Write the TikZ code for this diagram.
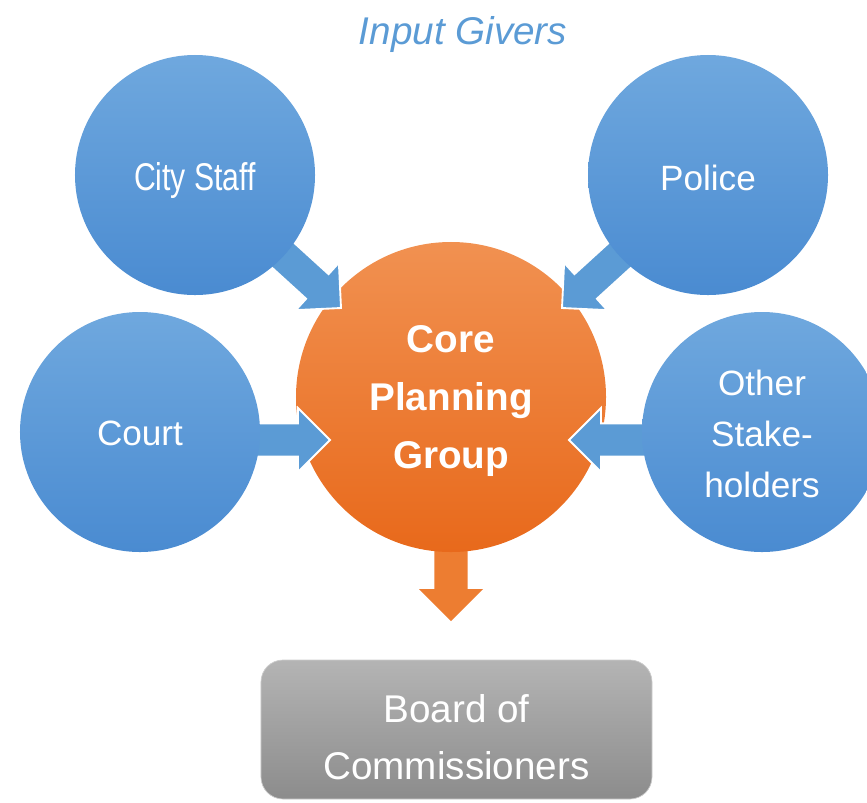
\documentclass[tikz,border=0pt]{standalone}
\usepackage{fontspec}
\setmainfont{Liberation Sans}
\usetikzlibrary{calc}

\definecolor{bubbletop}{HTML}{6FA8DE}
\definecolor{bubblebot}{HTML}{4A8BD1}
\definecolor{arrowblue}{HTML}{5B9BD5}
\definecolor{coretop}{HTML}{F19151}
\definecolor{corebot}{HTML}{E8691B}
\definecolor{arroworange}{HTML}{ED7D31}
\definecolor{boardtop}{HTML}{B4B4B4}
\definecolor{boardbot}{HTML}{8C8C8C}

\pgfdeclarelayer{below}
\pgfdeclarelayer{mid}
\pgfsetlayers{below,mid,main}

% block arrow from #2 to the tip #3
\newcommand{\blockarrow}[3][]{%
  \coordinate (ba-neck) at ($(#3)!0.96cm!(#2)$);
  \filldraw[#1] ($(#2)!0.5cm!90:(#3)$) -- ($(ba-neck)!0.5cm!90:(#3)$)
    -- ($(ba-neck)!0.96cm!90:(#3)$) -- (#3)
    -- ($(ba-neck)!0.96cm!-90:(#3)$) -- ($(ba-neck)!0.5cm!-90:(#3)$)
    -- ($(#2)!0.5cm!-90:(#3)$) -- cycle;}

\begin{document}
\begin{tikzpicture}[
    x=0.03cm, y=-0.03cm,
    bubble/.style={circle, minimum size=7.2cm, inner sep=0pt,
        top color=bubbletop, bottom color=bubblebot, text=white,
        align=center, font=\fontsize{30}{43.5}\selectfont},
    corebubble/.style={circle, minimum size=9.3cm, inner sep=0pt,
        top color=coretop, bottom color=corebot, text=white, text depth=0pt,
        align=center, font=\bfseries\fontsize{33}{49.5}\selectfont},
    board/.style={rectangle, rounded corners=0.66cm, minimum width=11.73cm,
        minimum height=4.17cm, draw=black!20, line width=0.6pt,
        top color=boardtop, bottom color=boardbot, text=white,
        text height=85pt, align=center, font=\fontsize{33}{48.7}\selectfont},
    heading/.style={text=arrowblue, font=\itshape\fontsize{33}{40}\selectfont},
    bluearrow/.style={fill=arrowblue, draw=white, line width=1.6pt, line join=miter},
    orangearrow/.style={fill=arroworange, draw=none}
]
    \useasboundingbox (0,0) rectangle (867,802);
    \clip (0,0) rectangle (867,802);

    \node[heading] (title) at (463,35) {Input Givers};

    \node[bubble, text height=33pt] (city) at (195,175)
        {\scalebox{0.78}[1]{\fontsize{33}{40}\selectfont City Staff}};
    \node[bubble, text height=26pt] (police) at (708,175) {Police};
    \node[bubble, text height=24pt] (court) at (140,432) {Court};
    \node[bubble, text height=112pt] (other) at (762,432) {Other\\Stake-\\holders};

    \node[board] (board) at (456.5,729.5) {Board of\\Commissioners};

    \coordinate (city-tip) at (341,308);
    \coordinate (police-tip) at (562,308);
    \coordinate (court-tip) at (330,440);
    \coordinate (other-tip) at (569,440);
    \coordinate (core-tip) at (451,621);

    \begin{pgfonlayer}{mid}
        \node[corebubble] (core) at (451,397) {Core\\Planning\\Group};
        \blockarrow[bluearrow]{city.center}{city-tip}
        \blockarrow[bluearrow]{police.center}{police-tip}
        \blockarrow[bluearrow]{court.center |- court-tip}{court-tip}
        \blockarrow[bluearrow]{other.center |- other-tip}{other-tip}
    \end{pgfonlayer}

    \begin{pgfonlayer}{below}
        \blockarrow[orangearrow]{core.center}{core-tip}
    \end{pgfonlayer}
\end{tikzpicture}
\end{document}
